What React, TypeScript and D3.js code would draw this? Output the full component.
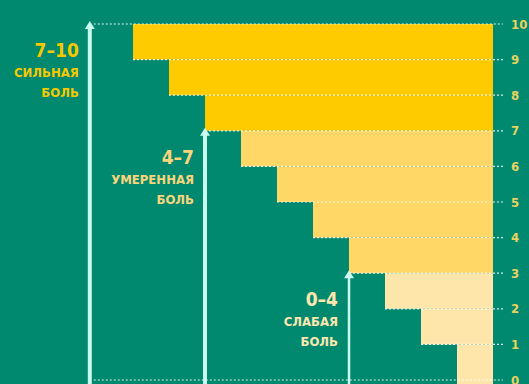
import React from "react";
import * as d3 from "d3";

// Pain scale bands: each band spans [level, level + 1] and its bar reaches `reach` units leftwards
const bandLevels = [0, 1, 2, 3, 4, 5, 6, 7, 8, 9];
const bandReach = [1, 2, 3, 4, 5, 6, 7, 8, 9, 10];
const bandGroup = ["mild", "mild", "mild", "moderate", "moderate", "moderate", "moderate", "strong", "strong", "strong"];

const tickValues = [0, 1, 2, 3, 4, 5, 6, 7, 8, 9, 10];

// Range groups with their arrow (position on the reach axis, top level) and caption
const groupKeys = ["strong", "moderate", "mild"];
const groupRanges = ["7–10", "4–7", "0–4"];
const groupWords = ["СИЛЬНАЯ", "УМЕРЕННАЯ", "СЛАБАЯ"];
const groupArrowAt = [11.2, 8, 4];
const groupArrowTop = [10, 7, 3];

const W = 529;
const H = 384;
const BG = "#00896f";
const ARROW = "#c9fbef";
const fill: Record<string, string> = {
  strong: "#fecb00",
  moderate: "#fed766",
  mild: "#fee6aa",
};
const textFill: Record<string, string> = {
  strong: "#f6c800",
  moderate: "#fbd57c",
  mild: "#fde6ae",
};
const arrowWidth: Record<string, number> = { strong: 4, moderate: 4, mild: 2.5 };
const FONT = "'Liberation Sans Narrow', 'DejaVu Sans Condensed', 'Liberation Sans', sans-serif";

export default function App() {
  const y = d3.scaleLinear().domain([0, 10]).range([380, 24]);
  const x = d3.scaleLinear().domain([0, 10]).range([493, 133]);
  const gridEnd = 503;

  return (
    <svg
      width={W}
      height={H}
      style={{ position: "absolute", left: 0, top: 0, display: "block" }}
    >
      <rect x={0} y={0} width={W} height={H} fill={BG} />

      {/* stepped bars */}
      {bandLevels.map((lv, i) => (
        <rect
          key={"b" + lv}
          x={x(bandReach[i])}
          y={y(lv + 1)}
          width={x(0) - x(bandReach[i])}
          height={y(lv) - y(lv + 1) + (lv === 0 ? 4 : 0)}
          fill={fill[bandGroup[i]]}
        />
      ))}

      {/* dotted level lines */}
      {tickValues.map((t) => {
        const start =
          t === 0 || t === 10 ? x(groupArrowAt[0]) + 4 : x(bandReach[t]);
        return (
          <line
            key={"g" + t}
            x1={start}
            x2={gridEnd}
            y1={y(t)}
            y2={y(t)}
            stroke="#ffffff"
            strokeOpacity={0.85}
            strokeWidth={1.2}
            strokeDasharray="2,2"
          />
        );
      })}

      {/* level labels */}
      {tickValues.map((t) => (
        <text
          key={"t" + t}
          x={511}
          y={y(t)}
          dy="0.36em"
          fontFamily={FONT}
          fontWeight="bold"
          fontSize={13}
          fill="#e9d25e"
        >
          {t}
        </text>
      ))}

      {/* arrows and captions */}
      {groupKeys.map((g, i) => {
        const ax = x(groupArrowAt[i]);
        const top = y(groupArrowTop[i]);
        const sw = arrowWidth[g];
        const right = ax - 11;
        return (
          <g key={"a" + g}>
            <line x1={ax} x2={ax} y1={H} y2={top + 4} stroke={ARROW} strokeWidth={sw} />
            <path
              d={`M${ax},${top - 3} L${ax - 5},${top + 5} L${ax + 5},${top + 5} Z`}
              fill={ARROW}
            />
            <text
              x={right}
              y={top + 33}
              textAnchor="end"
              fontFamily={FONT}
              fontWeight="bold"
              fontSize={19}
              fill={textFill[g]}
            >
              {groupRanges[i]}
            </text>
            <text
              x={right}
              y={top + 53}
              textAnchor="end"
              fontFamily={FONT}
              fontWeight="bold"
              fontSize={13}
              fill={textFill[g]}
            >
              {groupWords[i]}
            </text>
            <text
              x={right}
              y={top + 73}
              textAnchor="end"
              fontFamily={FONT}
              fontWeight="bold"
              fontSize={13}
              fill={textFill[g]}
            >
              БОЛЬ
            </text>
          </g>
        );
      })}
    </svg>
  );
}
